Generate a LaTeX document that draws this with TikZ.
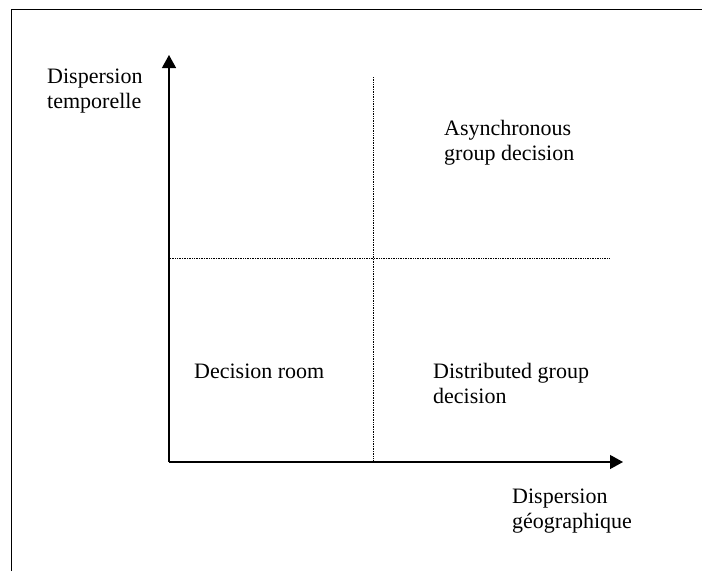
\documentclass[tikz,border=0pt]{standalone}
\usepackage{fontspec}
\setmainfont{Liberation Serif}
\usetikzlibrary{arrows.meta}
\tikzstyle{point} = [coordinate]
\tikzstyle{axis} = [line width=1.3pt]
\tikzstyle{grid} = [densely dotted, line width=0.7pt]
\tikzstyle{txt} = [anchor=base west, inner sep=0pt, align=left,
    font=\fontsize{22}{25}\selectfont]

\begin{document}
\begin{tikzpicture}[x=1pt, y=-1pt, >={Triangle[length=13pt,width=14pt]}]
    \useasboundingbox (0,0) rectangle (702,571);

    % Frame
    \node [point] (fbl) at (11,571) {};
    \node [point] (ftl) at (11,9) {};
    \node [point] (ftr) at (702,9) {};
    \draw [line width=1pt] (fbl) -- (ftl) -- (ftr);

    % Nodes
    \node [point] (origin) at (169,462) {};
    \node [point] (ytip) at (169,55) {};
    \node [point] (xtip) at (623,462) {};
    \node [point] (vtop) at (373,77) {};
    \node [point] (vbot) at (373,462) {};
    \node [point] (hleft) at (170,258) {};
    \node [point] (hright) at (609,258) {};

    % (base = last line)
    \node [txt] (ylab) at (47,108) {Dispersion\\temporelle};
    \node [txt] (xlab) at (512,528) {Dispersion\\géographique};
    \node [txt] (async) at (444,160) {Asynchronous\\group decision};
    \node [txt] (room) at (194,378) {Decision room};
    \node [txt] (distrib) at (433,403) {Distributed group\\decision};

    % Connections
    \draw [axis,->] (origin) -- (ytip);
    \draw [axis,->] (origin) -- (xtip);
    \draw [grid] (vtop) -- (vbot);
    \draw [grid] (hleft) -- (hright);

\end{tikzpicture}
\end{document}
